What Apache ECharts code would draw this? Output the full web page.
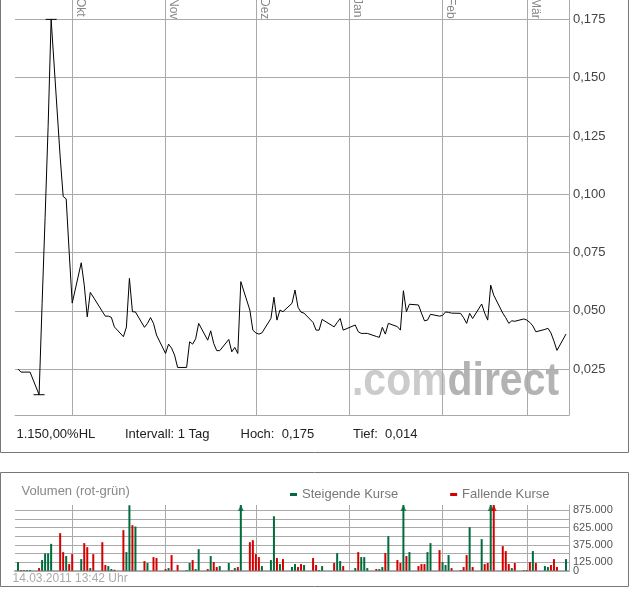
<!DOCTYPE html>
<html><head><meta charset="utf-8">
<script src="https://cdn.jsdelivr.net/npm/echarts@6/dist/echarts.min.js"></script>
<style>html,body{margin:0;padding:0;background:#fff;}#c{width:632px;height:590px;}</style>
</head><body><div id="c"></div>
<script>
// ---------- data ----------
const days = [
 '2010-09-13','2010-09-14','2010-09-15','2010-09-16','2010-09-17',
 '2010-09-20','2010-09-21','2010-09-22','2010-09-23','2010-09-24',
 '2010-09-27','2010-09-28','2010-09-29','2010-09-30',
 '2010-10-01','2010-10-04','2010-10-05','2010-10-06','2010-10-07','2010-10-08',
 '2010-10-11','2010-10-12','2010-10-13','2010-10-14','2010-10-15',
 '2010-10-18','2010-10-19','2010-10-20','2010-10-21','2010-10-22',
 '2010-10-25','2010-10-26','2010-10-27','2010-10-28','2010-10-29',
 '2010-11-01','2010-11-02','2010-11-03','2010-11-04','2010-11-05',
 '2010-11-08','2010-11-09','2010-11-10','2010-11-11','2010-11-12',
 '2010-11-15','2010-11-16','2010-11-17','2010-11-18','2010-11-19',
 '2010-11-22','2010-11-23','2010-11-24','2010-11-25','2010-11-26',
 '2010-11-29','2010-11-30',
 '2010-12-01','2010-12-02','2010-12-03',
 '2010-12-06','2010-12-07','2010-12-08','2010-12-09','2010-12-10',
 '2010-12-13','2010-12-14','2010-12-15','2010-12-16','2010-12-17',
 '2010-12-20','2010-12-21','2010-12-22','2010-12-23',
 '2010-12-27','2010-12-28','2010-12-29','2010-12-30',
 '2011-01-03','2011-01-04','2011-01-05','2011-01-06','2011-01-07',
 '2011-01-10','2011-01-11','2011-01-12','2011-01-13','2011-01-14',
 '2011-01-17','2011-01-18','2011-01-19','2011-01-20','2011-01-21',
 '2011-01-24','2011-01-25','2011-01-26','2011-01-27','2011-01-28',
 '2011-01-31',
 '2011-02-01','2011-02-02','2011-02-03','2011-02-04',
 '2011-02-07','2011-02-08','2011-02-09','2011-02-10','2011-02-11',
 '2011-02-14','2011-02-15','2011-02-16','2011-02-17','2011-02-18',
 '2011-02-21','2011-02-22','2011-02-23','2011-02-24','2011-02-25',
 '2011-02-28',
 '2011-03-01','2011-03-02','2011-03-03','2011-03-04',
 '2011-03-07','2011-03-08','2011-03-09','2011-03-10','2011-03-11',
 '2011-03-14'
];
const closePrice = [
 0.025,0.0237,0.0237,0.0237,0.0237, 0.014,0.053,0.090,0.129,0.175, 0.116,0.099,0.098,0.075,
 0.0533,0.0706,0.061,0.0474,0.0579,0.0559, 0.0497,0.0477,0.0477,0.0472,0.0431,
 0.0389,0.043,0.0639,0.0496,0.0495, 0.0429,0.0446,0.0471,0.0446,0.0396,
 0.0317,0.0357,0.034,0.031,0.0257, 0.0257,0.0367,0.0357,0.038,0.0446,
 0.0374,0.0414,0.036,0.0329,0.0329, 0.0377,0.0324,0.0343,0.0317,0.0625, 0.0503,0.0417,
 0.0405,0.040,0.0405, 0.0467,0.0558,0.046,0.0503,0.0496, 0.0532,0.0589,0.0515,0.0494,0.049,
 0.045,0.0417,0.0417,0.0463, 0.0431,0.045,0.0467,0.0417,
 0.0439,0.041,0.0403,0.0403,0.0403, 0.039,0.0386,0.0429,0.040,0.0446,
 0.0432,0.0417,0.0586,0.0496,0.0528, 0.0525,0.049,0.0457,0.046,0.0485, 0.0477,
 0.048,0.0495,0.0493,0.049, 0.0489,0.047,0.0446,0.0489,0.0467,
 0.0529,0.049,0.046,0.061,0.0567, 0.049,0.047,0.0446,0.0457,0.0455, 0.0465,
 0.046,0.045,0.0435,0.041, 0.042,0.0425,0.0405,0.037,0.033, 0.040
];
const volume = [
 125000,10000,10000,10000,10000, 38000,154000,250000,250000,389000, 543000,269000,212000,96000,
 240000,168000,399000,341000,38000,240000, 413000,82000,67000,24000,14000,
 587000,269000,947000,659000,639000, 139000,111000,0,197000,183000,
 24000,38000,226000,0,82000, 10000,111000,154000,24000,312000,
 24000,212000,125000,53000,67000, 111000,10000,38000,53000,1200000, 413000,442000,
 240000,197000,67000, 154000,788000,183000,96000,168000, 53000,96000,53000,96000,82000,
 183000,82000,10000,67000, 111000,255000,139000,67000,
 38000,269000,197000,197000,38000, 24000,24000,53000,255000,500000,
 154000,111000,1200000,212000,269000, 67000,96000,96000,269000,399000, 298000,
 125000,82000,226000,38000, 10000,53000,226000,630000,53000,
 457000,96000,111000,1200000,1200000, 356000,284000,96000,38000,111000, 10000,
 10000,125000,284000,111000, 67000,53000,82000,168000,53000, 168000
];
// 1 = steigend (green), 0 = fallend (red)
const rising = [
 1,0,1,1,1, 0,1,1,1,1, 0,0,1,0,
 0,1,0,0,1,0, 0,0,1,1,0, 0,1,1,0,1, 0,1,1,0,0,
 0,1,0,0,0, 1,1,0,1,1, 0,1,0,0,1, 1,0,1,0,1, 0,0,
 0,0,1, 1,1,0,1,0, 1,1,0,0,1, 0,0,1,1, 0,1,1,0,
 1,0,1,1,1, 0,1,1,0,1, 0,0,1,0,1, 0,0,0,1,1, 0,
 1,1,1,0, 1,0,0,1,0, 1,0,0,1,0, 0,0,0,1,0, 1,
 0,0,1,0, 1,1,0,0,0, 1
];
const monthStarts = ['2010-10-01','2010-11-01','2010-12-01','2011-01-01','2011-02-01','2011-03-01'];
const monthNames = ['Jan','Feb','Mär','Apr','Mai','Jun','Jul','Aug','Sep','Okt','Nov','Dez'];
const priceTicks = [0.025,0.05,0.075,0.1,0.125,0.15,0.175];
const volTicks = [0,125000,250000,375000,500000,625000,750000,875000];
const volLabelTicks = [125000,375000,625000,875000];
const volZeroTick = [0];

// ---------- layout ----------
const FONT = '"Liberation Sans", Arial, sans-serif';
const ts = s => Date.parse(s + 'T00:00:00Z');
const X_MIN = ts('2010-09-12'), X_MAX = ts('2011-03-15');
const P_MIN = 0.0053, P_MAX = 0.1833;
const V_MAX = 951000;
const GREEN = '#006b3c', RED = '#d40000', GRID = '#aaaaaa';
const monthTs = monthStarts.map(ts);
const volFmt = v => v === 0 ? '0' : (v / 1000) + '.000';

const chart = echarts.init(document.getElementById('c'), null, {renderer: 'canvas'});

const upData = [], downData = [], arrowData = [];
days.forEach((d, i) => {
  if (!volume[i]) return;
  (rising[i] ? upData : downData).push([ts(d), volume[i]]);
  if (volume[i] > V_MAX) arrowData.push({value: [ts(d), V_MAX], itemStyle: {color: rising[i] ? GREEN : RED}});
});

const txt = (text, x, y, color, size) => ({
  type: 'text', x: x, y: y, silent: true,
  style: {text: text, fill: color, font: size + 'px ' + FONT, verticalAlign: 'middle', align: 'left'}
});

chart.setOption({
  animation: false,
  grid: [
    {left: 15, right: 63, top: 0, bottom: 175, outerBoundsMode: 'none', containLabel: false},
    {left: 15, right: 63, top: 505, bottom: 19.3, outerBoundsMode: 'none', containLabel: false}
  ],
  xAxis: [
    {type: 'value', gridIndex: 0, min: X_MIN, max: X_MAX, position: 'top',
     axisLine: {show: false},
     axisTick: {show: false, customValues: monthTs},
     axisLabel: {inside: true, rotate: 90, margin: -2, customValues: monthTs,
       verticalAlign: 'bottom', lineHeight: 16, color: '#888', fontSize: 12, fontFamily: FONT,
       formatter: v => monthNames[new Date(v).getUTCMonth()]},
     splitLine: {show: true, lineStyle: {color: GRID, width: 1}}},
    {type: 'value', gridIndex: 1, min: X_MIN, max: X_MAX, position: 'bottom',
     axisLine: {show: true, lineStyle: {color: GRID, width: 2}},
     axisTick: {show: false, customValues: monthTs},
     axisLabel: {show: false, customValues: monthTs},
     splitLine: {show: true, lineStyle: {color: GRID, width: 1}}},
    {type: 'value', gridIndex: 0, min: X_MIN, max: X_MAX, position: 'bottom',
     axisLine: {show: true, lineStyle: {color: GRID, width: 1}},
     axisTick: {show: false}, axisLabel: {show: false}, splitLine: {show: false}}
  ],
  yAxis: [
    {type: 'value', gridIndex: 0, position: 'right', min: P_MIN, max: P_MAX,
     axisLine: {show: true, lineStyle: {color: GRID}},
     axisTick: {show: false, customValues: priceTicks},
     axisLabel: {customValues: priceTicks, margin: 4, color: '#444', fontSize: 13, fontFamily: FONT,
       formatter: v => v.toFixed(3).replace('.', ',')},
     splitLine: {show: true, lineStyle: {color: GRID, width: 1}}},
    {type: 'value', gridIndex: 1, position: 'right', min: 0, max: V_MAX,
     axisLine: {show: true, lineStyle: {color: GRID}},
     axisTick: {show: false, customValues: volTicks},
     axisLabel: {customValues: volLabelTicks, margin: 4, color: '#555', fontSize: 11, fontFamily: FONT,
       formatter: volFmt},
     splitLine: {show: true, lineStyle: {color: GRID, width: 1}}},
    {type: 'value', gridIndex: 1, position: 'right', min: 0, max: V_MAX,
     axisLine: {show: false}, splitLine: {show: false},
     axisTick: {show: false, customValues: volZeroTick},
     axisLabel: {customValues: volZeroTick, margin: 4, color: '#555', fontSize: 11, fontFamily: FONT,
       formatter: volFmt}}
  ],
  legend: {
    data: ['Steigende Kurse', 'Fallende Kurse'], selectedMode: false,
    left: 285, top: 483, itemGap: 52, itemWidth: 7, itemHeight: 3, icon: 'rect',
    textStyle: {color: '#777', fontSize: 13, fontFamily: FONT}
  },
  series: [
    {type: 'line', name: 'Kurs', xAxisIndex: 0, yAxisIndex: 0,
     data: days.map((d, i) => [ts(d), closePrice[i]]),
     showSymbol: false, symbol: 'none', lineStyle: {color: '#000', width: 1}, z: 5,
     markPoint: {symbol: 'rect', symbolSize: [11, 1], silent: true, animation: false,
       itemStyle: {color: '#000'}, label: {show: false},
       data: [{type: 'max'}, {type: 'min'}]}},
    {type: 'bar', name: 'Steigende Kurse', xAxisIndex: 1, yAxisIndex: 1, data: upData,
     barWidth: 2, barGap: '-100%', itemStyle: {color: GREEN}},
    {type: 'bar', name: 'Fallende Kurse', xAxisIndex: 1, yAxisIndex: 1, data: downData,
     barWidth: 2, barGap: '-100%', itemStyle: {color: RED}},
    {type: 'scatter', xAxisIndex: 1, yAxisIndex: 1, data: arrowData, symbol: 'triangle',
     symbolSize: [6, 6], symbolOffset: [0, 3], z: 6, silent: true}
  ],
  graphic: [
    {type: 'rect', silent: true, shape: {x: 0.5, y: -10, width: 628, height: 462.5},
     style: {fill: 'none', stroke: '#777', lineWidth: 1}},
    {type: 'rect', silent: true, shape: {x: 0.5, y: 472.5, width: 628, height: 114},
     style: {fill: 'none', stroke: '#777', lineWidth: 1}},
    {type: 'text', silent: true, x: 352, y: 359.5, scaleX: 0.89, z: 0,
     style: {text: '{a|.com}{b|direct}', verticalAlign: 'top', align: 'left',
       rich: {
         a: {fill: '#cbcbcb', fontSize: 46, fontWeight: 'bold', fontFamily: FONT},
         b: {fill: '#b3b3b3', fontSize: 46, fontWeight: 'bold', fontFamily: FONT}
       }}},
    txt('1.150,00%HL', 16.5, 434, '#222', 13),
    txt('Intervall: 1 Tag', 125, 434, '#222', 13),
    txt('Hoch:  0,175', 240.5, 434, '#222', 13),
    txt('Tief:  0,014', 353, 434, '#222', 13),
    txt('Volumen (rot-grün)', 21.5, 491, '#888', 13),
    txt('14.03.2011 13:42 Uhr', 12.5, 579, '#aaa', 12)
  ]
});
</script></body></html>
